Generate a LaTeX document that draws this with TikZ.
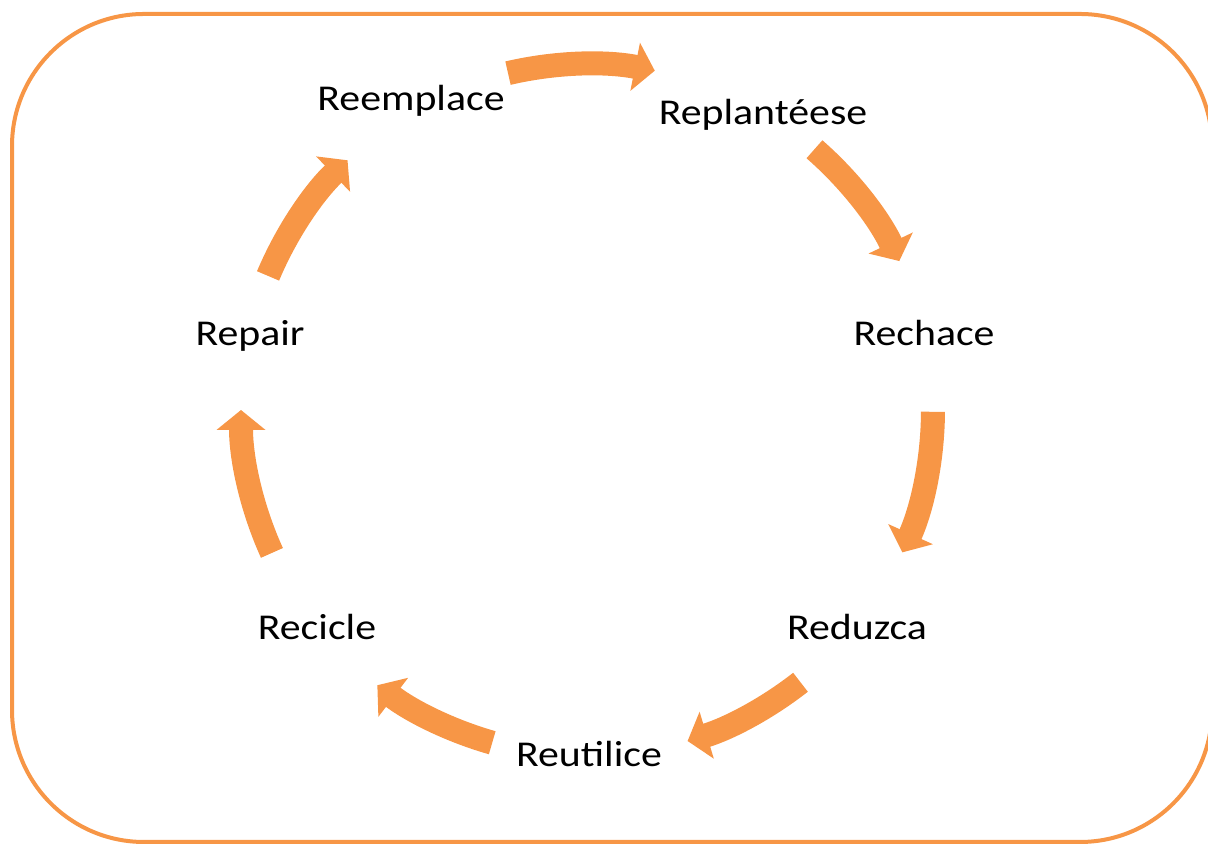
\documentclass[tikz,border=0pt]{standalone}
\usepackage{fontspec}
\setmainfont{Carlito}[FakeStretch=1.15]
\usetikzlibrary{arrows.meta}
\definecolor{cycorange}{HTML}{F79646}

\begin{document}
\begin{tikzpicture}[
  frame/.style={draw=cycorange, line width=0.08cm, rounded corners=2.64cm},
  stage/.style={anchor=base, font=\fontsize{20.7}{25}\selectfont},
  cycarrow/.style={draw=cycorange, line width=0.48cm,
    -{Triangle[width=0.96cm, length=0.4cm, fill=cycorange]}}
]
\useasboundingbox (0,0) rectangle (24.16,16.9);
\clip (0,0) rectangle (24.16,16.9);

\draw[frame] (0.24,0.06) rectangle (24.24,16.62);

\node[stage] (reemplace) at (8.22,14.68) {Reemplace};
\node[stage] (replant) at (15.26,14.4) {Replantéese};
\node[stage] (rechace) at (18.48,9.98) {Rechace};
\node[stage] (reduzca) at (17.14,4.1) {Reduzca};
\node[stage] (reutilice) at (11.78,1.56) {Reutilice};
\node[stage] (recicle) at (6.34,4.1) {Recicle};
\node[stage] (repair) at (5.0,9.98) {Repair};

% ring of arrows round the centre
\coordinate (c) at (11.74,8.7);
\draw[cycarrow] ([shift={(103.2:6.92)}]c) arc[start angle=103.2, end angle=78.7, radius=6.92];
\draw[cycarrow] ([shift={(48.9:6.92)}]c) arc[start angle=48.9, end angle=25.5, radius=6.92];
\draw[cycarrow] ([shift={(-0.3:6.92)}]c) arc[start angle=-0.3, end angle=-24.3, radius=6.92];
\draw[cycarrow] ([shift={(-51.9:6.92)}]c) arc[start angle=-51.9, end angle=-73.1, radius=6.92];
\draw[cycarrow] ([shift={(254.1:6.92)}]c) arc[start angle=254.1, end angle=232.7, radius=6.92];
\draw[cycarrow] ([shift={(204.4:6.92)}]c) arc[start angle=204.4, end angle=180, radius=6.92];
\draw[cycarrow] ([shift={(157.2:6.92)}]c) arc[start angle=157.2, end angle=133.8, radius=6.92];

\end{tikzpicture}
\end{document}
